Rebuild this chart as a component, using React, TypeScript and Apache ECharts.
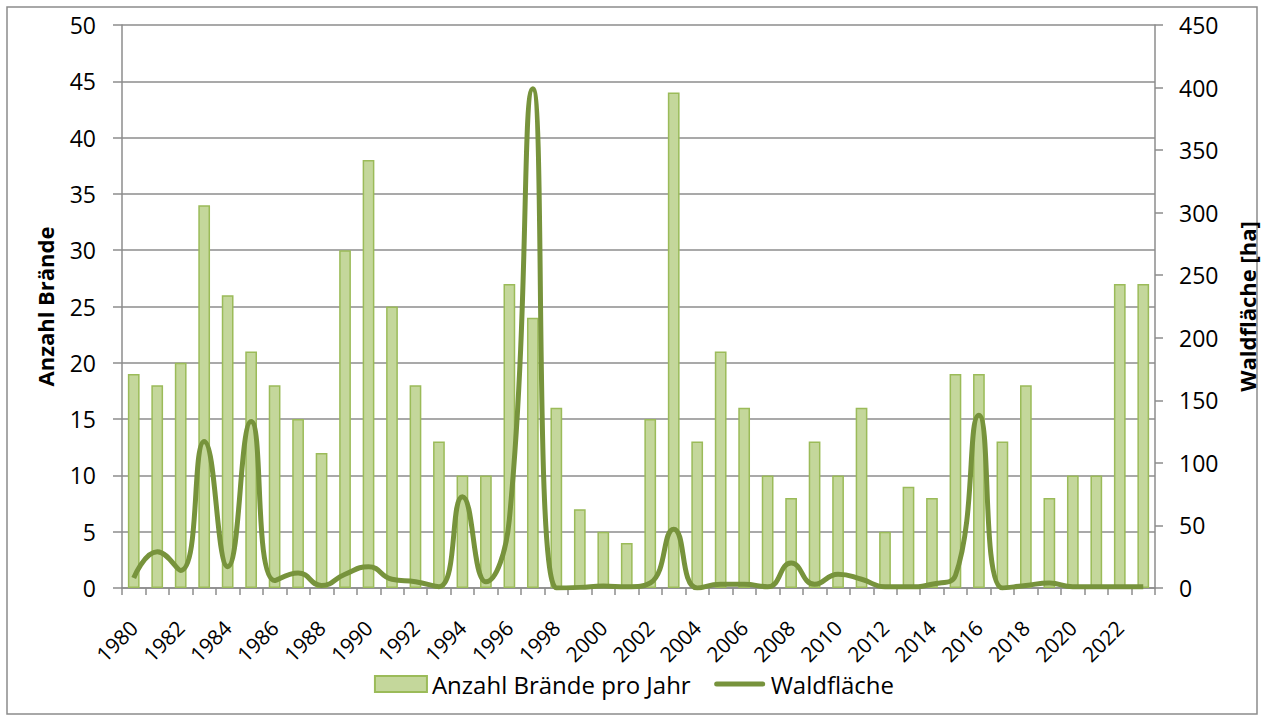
import React, { useEffect, useRef } from "react";
import * as echarts from "echarts";

const years = [
  "1980","1981","1982","1983","1984","1985","1986","1987","1988","1989",
  "1990","1991","1992","1993","1994","1995","1996","1997","1998","1999",
  "2000","2001","2002","2003","2004","2005","2006","2007","2008","2009",
  "2010","2011","2012","2013","2014","2015","2016","2017","2018","2019",
  "2020","2021","2022","2023",
];

const braende = [
  19, 18, 20, 34, 26, 21, 18, 15, 12, 30,
  38, 25, 18, 13, 10, 10, 27, 24, 16, 7,
  5, 4, 15, 44, 13, 21, 16, 10, 8, 13,
  10, 16, 5, 9, 8, 19, 19, 13, 18, 8,
  10, 10, 27, 27,
];

const waldflaeche = [
  8, 29, 14, 117, 17, 133, 6, 12, 2, 11,
  17, 7, 5, 1, 73, 5, 55, 399, 0, 0.5,
  1.5, 1, 4, 47, 0, 3, 3, 1, 20, 3,
  11, 7, 1, 1, 3, 10, 138, 0, 2, 4,
  1, 1, 1, 1,
];

const leftTicks = { min: 0, max: 50, interval: 5 };
const rightTicks = { min: 0, max: 450, interval: 50 };

const FONT = "'Open Sans', 'Noto Sans', sans-serif";
const GRAY = "#8c8c8c";
const LINE_ICON =
  "path://M0,0 L0.01,0 M52,16 L51.99,16 M3,5.5 L49,5.5 A2.5,2.5 0 0 1 49,10.5 L3,10.5 A2.5,2.5 0 0 1 3,5.5 Z";

export default function App() {
  const ref = useRef<HTMLDivElement>(null);
  useEffect(() => {
    if (!ref.current) return;
    const chart = echarts.init(ref.current, undefined, { renderer: "svg" });
    chart.setOption({
      animation: false,
      textStyle: { fontFamily: FONT },
      graphic: [
        {
          type: "rect",
          shape: { x: 7, y: 7, width: 1250, height: 707 },
          style: { fill: "none", stroke: GRAY, lineWidth: 1.5 },
          silent: true,
        },
      ],
      grid: { left: 122, right: 113, top: 25, bottom: 134 },
      legend: {
        bottom: 21,
        left: "center",
        itemWidth: 52,
        itemHeight: 16,
        itemGap: 23,
        textStyle: { fontSize: 24, color: "#000", fontFamily: FONT },
        data: [
          { name: "Anzahl Brände pro Jahr", icon: "rect" },
          { name: "Waldfläche", icon: LINE_ICON },
        ],
      },
      xAxis: {
        type: "category",
        data: years,
        axisLine: { lineStyle: { color: GRAY, width: 1.5 } },
        axisTick: { show: true, interval: 0, length: 7, lineStyle: { color: GRAY, width: 1.5 } },
        axisLabel: {
          interval: 1,
          rotate: 45,
          fontSize: 21,
          color: "#000",
          margin: 36,
          fontFamily: FONT,
        },
      },
      yAxis: [
        {
          type: "value",
          ...leftTicks,
          name: "Anzahl Brände",
          nameLocation: "middle",
          nameGap: 66,
          nameTextStyle: { fontSize: 22, fontWeight: "bold", color: "#000", fontFamily: FONT },
          axisLine: { show: true, lineStyle: { color: GRAY, width: 1.5 } },
          axisTick: { show: true, length: 9, lineStyle: { color: GRAY, width: 1.5 } },
          axisLabel: { fontSize: 23, color: "#000", margin: 26, fontFamily: FONT },
          splitLine: { show: true, lineStyle: { color: GRAY, width: 1.5 } },
        },
        {
          type: "value",
          ...rightTicks,
          name: "Waldfläche [ha]",
          nameLocation: "middle",
          nameGap: 81,
          nameTextStyle: { fontSize: 22, fontWeight: "bold", color: "#000", fontFamily: FONT },
          axisLine: { show: true, lineStyle: { color: GRAY, width: 1.5 } },
          axisTick: { show: true, length: 8, lineStyle: { color: GRAY, width: 1.5 } },
          axisLabel: { fontSize: 23, color: "#000", margin: 24, fontFamily: FONT },
          splitLine: { show: false },
        },
      ],
      series: [
        {
          name: "Anzahl Brände pro Jahr",
          type: "bar",
          data: braende,
          yAxisIndex: 0,
          barWidth: "50%",
          itemStyle: { color: "#c4d79b", borderColor: "#9bbb59", borderWidth: 1.5 },
        },
        {
          name: "Waldfläche",
          type: "line",
          data: waldflaeche,
          yAxisIndex: 1,
          smooth: 0.5,
          symbol: "none",
          lineStyle: { color: "#77933c", width: 5 },
          itemStyle: { color: "#77933c" },
        },
      ],
    });
    return () => chart.dispose();
  }, []);
  return (
    <div
      ref={ref}
      style={{ position: "absolute", left: 0, top: 0, width: 1268, height: 722, background: "#fff" }}
    />
  );
}
